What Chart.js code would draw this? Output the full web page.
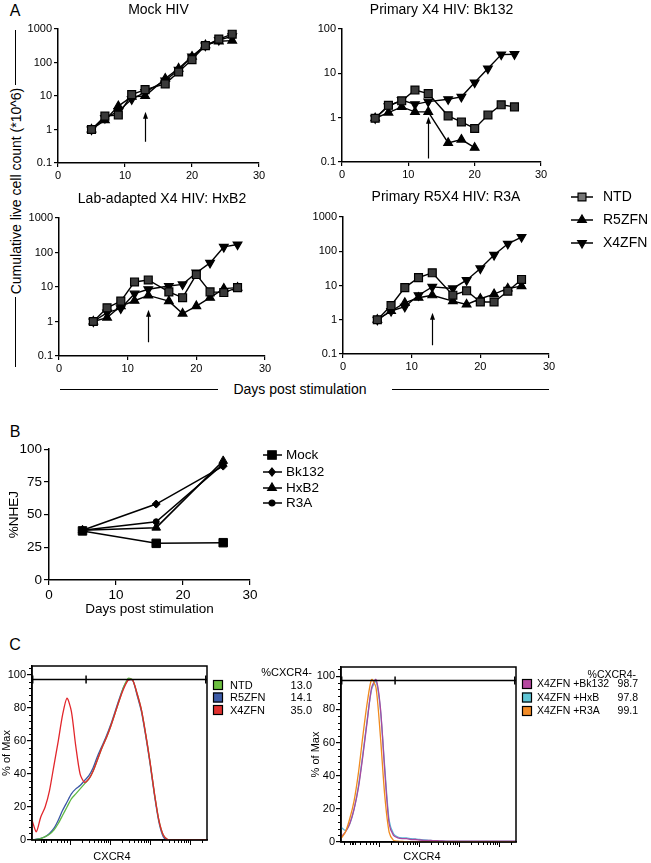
<!DOCTYPE html>
<html><head><meta charset="utf-8">
<script src="https://cdn.jsdelivr.net/npm/chart.js@4.4.1/dist/chart.umd.min.js"></script>
<style>
html,body{margin:0;padding:0;background:#fff}
body{position:relative;width:651px;height:863px;overflow:hidden;font-family:"Liberation Sans",Arial,Helvetica,sans-serif;color:#000}
canvas{position:absolute}
.lbl{position:absolute;white-space:nowrap;transform:translate(-50%,-50%);line-height:1}
.hl{position:absolute;height:0;border-top:1.5px solid #000}
.vl{position:absolute;width:0;border-left:1.5px solid #000}
</style></head><body>
<div class="lbl" style="left:15px;top:11px;font-size:16px">A</div>
<div class="lbl" style="left:15px;top:432px;font-size:16px">B</div>
<div class="lbl" style="left:15px;top:645px;font-size:16px">C</div>
<div class="lbl" style="left:16px;top:191px;font-size:14px;transform:translate(-50%,-50%) rotate(-90deg)">Cumulative live cell count (*10^6)</div>
<div class="vl" style="left:15px;top:30px;height:55px"></div>
<div class="vl" style="left:15px;top:297px;height:70px"></div>
<div class="lbl" style="left:300px;top:389px;font-size:14px">Days post stimulation</div>
<div class="hl" style="left:60px;top:389px;width:158px"></div>
<div class="hl" style="left:392px;top:389px;width:157px"></div>
<canvas id="a1"></canvas><canvas id="a2"></canvas><canvas id="a3"></canvas><canvas id="a4"></canvas>
<canvas id="b1"></canvas><canvas id="c1"></canvas><canvas id="c2"></canvas>
<script>
// ---------- DATA ----------
const DAYS = [5, 7, 9, 11, 13, 16, 18, 20, 22, 24, 26];
const A_SERIES = ['NTD', 'R5ZFN', 'X4ZFN'];
const MOCK_NTD = [1, 2.5, 2.7, 11, 15.5, 23, 52, 122, 320, 500, 700];
const MOCK_R5  = [1, 1.9, 5, 9.5, 10, 33, 66, 150, 330, 430, 450];
const MOCK_X4  = [1, 2.2, 3.5, 8, 13, 29, 60, 150, 320, 470, 600];
const BK_NTD = [0.97, 1.9, 2.4, 4.2, 3.5, 1.1, 0.8, 0.57, 1.15, 1.95, 1.75];
const BK_R5  = [0.97, 1.3, 1.75, 1.35, 1.35, 0.27, 0.32, 0.21];
const BK_X4  = [0.97, 1.8, 2.5, 2.0, 2.3, 2.6, 2.95, 6.2, 12.8, 26.5, 27];
const HXB_NTD = [1, 2.5, 3.9, 14, 16, 7.2, 4.9, 23, 7.2, 6.9, 9.6];
const HXB_R5  = [1, 1.3, 2.8, 4, 5.7, 3.9, 1.7, 2.8, 4.9, 9, 9.6];
const HXB_X4  = [1, 1.8, 2.4, 6.4, 8.6, 10.7, 11.9, 26, 50, 145, 170];
const R3A_NTD = [1, 2.6, 8.7, 17, 23.5, 5.2, 7, 3.3, 3.3, 6.8, 15];
const R3A_R5  = [1, 1.8, 3.1, 4.4, 5.2, 3.5, 2.8, 4.1, 5.6, 8.2, 9.6];
const R3A_X4  = [1, 1.8, 2.4, 5.2, 9.1, 8.2, 14.3, 31.5, 78, 165, 260];
const A_TICKS_4 = [0.1, 1, 10, 100, 1000];
const A_TICKS_3 = [0.1, 1, 10, 100];
const ARROW_DAY = 13;

const B_DAYS = [5, 16, 26];
const B_SERIES = ['Mock', 'Bk132', 'HxB2', 'R3A'];
const B_MOCK  = [37.5, 28, 28.5];
const B_BK132 = [38, 58, 87];
const B_HXB2  = [38, 40, 91];
const B_R3A   = [38, 44.5, 88.5];
const B_TICKS = [0, 25, 50, 75, 100];

const C_X = [0,2.5,5,7.5,10,12.5,15,17.5,20,22.5,25,27.5,30,32.5,35,37.5,40,42.5,45,47.5,50,52.5,55,57.5,60,62.5,65,67.5,70,72.5,75,77.5,80,82.5,85,87.5,90,92.5,95,97.5,100];
const C1_SERIES = ['NTD', 'R5ZFN', 'X4ZFN'];
const C1_PCT = ['13.0', '14.1', '35.0'];
const C_NTD = [0,0.3,0.8,2,3.5,6,10,15,20,25,28,31,34,37,42,49,56,62,69,77,85,93,98,97,89,79,64,47,28,12,3,0.3,0,0,0,0,0,0,0,0,0];
const C_R5  = [0,0.5,1,2,4,7,12,18,23,28,31,33,36,39,44,51,57,63,70,78,86,93,97,97,88,78,63,46,27,11,2,0,0,0,0,0,0,0,0,0,0];
const C_X4  = [12,5,14,20,30,45,60,76,86,78,57,40,35,37,42,49,56,62,69,77,85,92,97,97,89,79,64,47,28,12,3,0.3,0,0,0,0,0,0,0,0,0];
const C2_SERIES = ['X4ZFN +Bk132', 'X4ZFN +HxB', 'X4ZFN +R3A'];
const C2_PCT = ['98.7', '97.8', '99.1'];
const C_BK132 = [3,6,11,20,33,52,73,93,98,81,43,11,4,2.5,2,2,1.5,1.5,1.2,1,1,0.8,0.8,0.6,0.5,0.5,0.5,0.5,0.5,0.5,0.5,0.5,0.5,0.5,0.5,0.5,0.5,0.5,0.5,0.5,0.5];
const C_HXB   = [9,7,11,20,34,53,74,92,97,80,45,13,5,3,2.5,2.5,2,1.8,1.5,1.2,1,0.8,0.6,0.5,0.4,0.3,0.3,0.3,0.3,0.3,0.3,0.3,0.3,0.3,0.3,0.3,0.3,0.3,0.3,0.3,0.3];
const C_R3A   = [2,6,14,25,42,64,84,98,93,64,28,6,1,0.5,0.3,0.2,0,0,0,0,0,0,0,0,0,0,0,0,0,0,0,0,0,0,0,0,0,0,0,0,0];
const C_YTICKS = [0, 20, 40, 60, 80, 100];
const C_GATE_Y = 97.6;
const C_GATE_MARKS = [0.4, 30.9, 99.3];
const C_DECADES = [21.7, 44.6, 67.4, 90.3];
const C_LOW_TICKS = [1.5, 5, 6, 7, 8, 11, 14, 16.3, 18.3, 20.1];

// ---------- HELPERS ----------
const FONT = '"Liberation Sans", Arial, Helvetica, sans-serif';
Chart.defaults.font.family = FONT;
Chart.defaults.color = '#000';
Chart.defaults.animation = false;

function place(id, left, top, w, h) {
  const c = document.getElementById(id);
  c.width = w; c.height = h;
  c.style.left = left + 'px'; c.style.top = top + 'px';
  c.style.width = w + 'px'; c.style.height = h + 'px';
  return c;
}
function drawMarker(ctx, style, x, y, r, fill, stroke, rot) {
  ctx.save();
  ctx.translate(x, y);
  if (rot) ctx.rotate(rot * Math.PI / 180);
  ctx.beginPath();
  if (style === 'rect') { const s = r * Math.SQRT1_2; ctx.rect(-s, -s, 2 * s, 2 * s); }
  else if (style === 'rectRot') { ctx.moveTo(0, -r); ctx.lineTo(r * 0.8, 0); ctx.lineTo(0, r); ctx.lineTo(-r * 0.8, 0); ctx.closePath(); }
  else if (style === 'triangle') { ctx.moveTo(0, -r); ctx.lineTo(r * 0.866, r * 0.5); ctx.lineTo(-r * 0.866, r * 0.5); ctx.closePath(); }
  else { ctx.arc(0, 0, r, 0, Math.PI * 2); }
  ctx.fillStyle = fill; ctx.fill();
  ctx.strokeStyle = stroke; ctx.lineWidth = 1.2; ctx.stroke();
  ctx.restore();
}
const A_STYLE = [
  { pointStyle: 'rect', radius: 5.6, bg: '#3a3a3a', rot: 0 },
  { pointStyle: 'triangle', radius: 5, bg: '#000', rot: 0 },
  { pointStyle: 'triangle', radius: 5, bg: '#000', rot: 180 }
];
const B_STYLE = [
  { pointStyle: 'rect', radius: 6, bg: '#000', rot: 0 },
  { pointStyle: 'rectRot', radius: 4, bg: '#000', rot: 0 },
  { pointStyle: 'triangle', radius: 5, bg: '#000', rot: 0 },
  { pointStyle: 'circle', radius: 3, bg: '#000', rot: 0 }
];

function lineLegend(names, styles, page, o) {
  return { id: 'lineLegend', afterDraw(chart) {
    const ctx = chart.ctx;
    names.forEach((n, i) => {
      const y = o.ys[i] - page.top, st = styles[i];
      ctx.save();
      ctx.strokeStyle = '#000'; ctx.lineWidth = 1.5;
      ctx.beginPath(); ctx.moveTo(o.x0 - page.left, y); ctx.lineTo(o.x1 - page.left, y); ctx.stroke();
      drawMarker(ctx, st.pointStyle, o.mx - page.left, y, st.radius, o.legendFill && i === 0 ? o.legendFill : st.bg, '#000', st.rot);
      ctx.fillStyle = '#000'; ctx.font = o.font; ctx.textBaseline = 'middle'; ctx.textAlign = 'left';
      ctx.fillText(n, o.tx - page.left, y + 0.5);
      ctx.restore();
    });
  }};
}
function arrowPlugin(a) {
  return { id: 'arrow', afterDatasetsDraw(chart) {
    const ctx = chart.ctx;
    const x = Math.round(chart.scales.x.getPixelForValue(a.day)) + 0.5;
    const y0 = chart.scales.y.getPixelForValue(a.from);
    const y1 = chart.scales.y.getPixelForValue(a.to);
    ctx.save();
    ctx.strokeStyle = '#000'; ctx.fillStyle = '#000'; ctx.lineWidth = 1.2;
    ctx.beginPath(); ctx.moveTo(x, y0); ctx.lineTo(x, y1 + 5); ctx.stroke();
    ctx.beginPath(); ctx.moveTo(x, y1); ctx.lineTo(x - 2.5, y1 + 7); ctx.lineTo(x + 2.5, y1 + 7); ctx.closePath(); ctx.fill();
    ctx.restore();
  }};
}
function axisStyle(size, tickLen) {
  return {
    grid: { drawOnChartArea: false, drawTicks: true, tickLength: tickLen, color: '#000', lineWidth: 1.2 },
    border: { color: '#000', width: 1.5 },
    ticks: { font: { size: size }, color: '#000', padding: 2, maxRotation: 0 }
  };
}

function makeA(id, g, title, vals, yMax, yTicks, arrow, extra) {
  const padT = 2, tf = 14, lh = tf * 1.2, xh = 22, padR = g.padR || 12;
  const cTop = Math.round(g.titleY - lh / 2 - padT);
  const cLeft = g.L - g.yw;
  const w = g.R + padR - cLeft, h = g.B + xh - cTop;
  const titlePadB = g.T - cTop - padT - lh;
  const canvas = place(id, cLeft, cTop, w, h);
  const datasets = vals.map((arr, k) => ({
    label: A_SERIES[k],
    data: arr.map((v, i) => ({ x: DAYS[i], y: v })),
    borderColor: '#000', borderWidth: 1.4, tension: 0,
    pointStyle: A_STYLE[k].pointStyle, pointRadius: A_STYLE[k].radius,
    pointRotation: A_STYLE[k].rot, pointBackgroundColor: A_STYLE[k].bg,
    pointBorderColor: '#000', pointBorderWidth: 1.2
  }));
  const xs = axisStyle(11, 4), ys = axisStyle(11, 4);
  const plugins = [arrowPlugin(arrow)];
  if (extra) plugins.push(extra({ left: cLeft, top: cTop }));
  return new Chart(canvas, {
    type: 'line',
    data: { datasets },
    options: {
      responsive: false, animation: false,
      layout: { padding: { top: padT, right: padR, left: 0, bottom: 0 } },
      plugins: {
        legend: { display: false }, tooltip: { enabled: false },
        title: { display: true, text: title, fullSize: false, color: '#000',
          font: { size: tf, weight: 'normal' }, padding: { top: 0, bottom: titlePadB } }
      },
      scales: {
        x: Object.assign({ type: 'linear', min: 0, max: 30, afterFit: s => { s.height = xh; } }, xs,
          { ticks: Object.assign({}, xs.ticks, { stepSize: 10 }) }),
        y: Object.assign({ type: 'logarithmic', min: 0.1, max: yMax,
          afterFit: s => { s.width = g.yw; },
          afterBuildTicks: s => { s.ticks = yTicks.map(v => ({ value: v })); } }, ys,
          { ticks: Object.assign({}, ys.ticks, { callback: v => String(v) }) })
      }
    },
    plugins
  });
}

// ---------- PANEL A ----------
makeA('a1', { L: 58, T: 29, R: 259, B: 163, titleY: 10, yw: 58 }, 'Mock HIV',
  [MOCK_NTD, MOCK_R5, MOCK_X4], 1000, A_TICKS_4, { day: ARROW_DAY, from: 0.43, to: 3.4 });
makeA('a2', { L: 342, T: 29, R: 541, B: 162, titleY: 10, yw: 42 }, 'Primary X4 HIV: Bk132',
  [BK_NTD, BK_R5, BK_X4], 100, A_TICKS_3, { day: ARROW_DAY, from: 0.12, to: 1.05 });
makeA('a3', { L: 59, T: 218, R: 265, B: 356, titleY: 199, yw: 59 }, 'Lab-adapted X4 HIV: HxB2',
  [HXB_NTD, HXB_R5, HXB_X4], 1000, A_TICKS_4, { day: ARROW_DAY, from: 0.25, to: 2.2 });
makeA('a4', { L: 343, T: 217, R: 549, B: 354, titleY: 197, yw: 42, padR: 102 }, 'Primary R5X4 HIV: R3A',
  [R3A_NTD, R3A_R5, R3A_X4], 1000, A_TICKS_4, { day: ARROW_DAY, from: 0.18, to: 1.6 },
  page => lineLegend(A_SERIES, A_STYLE, page,
    { x0: 571, x1: 593, mx: 582, tx: 603, ys: [197, 220, 243], font: '14px ' + FONT, legendFill: '#777' }));

// ---------- PANEL B ----------
(function () {
  const page = { left: 0, top: 439 };
  const canvas = place('b1', page.left, page.top, 340, 617 - 439);
  const vals = [B_MOCK, B_BK132, B_HXB2, B_R3A];
  const datasets = vals.map((arr, k) => ({
    label: B_SERIES[k],
    data: arr.map((v, i) => ({ x: B_DAYS[i], y: v })),
    borderColor: '#000', borderWidth: 1.5, tension: 0,
    pointStyle: B_STYLE[k].pointStyle, pointRadius: B_STYLE[k].radius,
    pointBackgroundColor: '#000', pointBorderColor: '#000', pointBorderWidth: 1
  }));
  const xs = axisStyle(13.5, 5), ys = axisStyle(13.5, 5);
  new Chart(canvas, {
    type: 'line',
    data: { datasets },
    options: {
      responsive: false, animation: false,
      layout: { padding: { top: 8, right: 90, left: 0, bottom: 0 } },
      plugins: { legend: { display: false }, tooltip: { enabled: false } },
      scales: {
        x: Object.assign({ type: 'linear', min: 0, max: 30, afterFit: s => { s.height = 37; },
          title: { display: true, text: 'Days post stimulation', font: { size: 13.5 }, color: '#000', padding: 0 } }, xs,
          { ticks: Object.assign({}, xs.ticks, { stepSize: 10 }) }),
        y: Object.assign({ type: 'linear', min: 0, max: 100, afterFit: s => { s.width = 49; },
          afterBuildTicks: s => { s.ticks = B_TICKS.map(v => ({ value: v })); },
          title: { display: true, text: '%NHEJ', font: { size: 13.5 }, color: '#000', padding: { top: 6, bottom: 0 } } }, ys)
      }
    },
    plugins: [lineLegend(B_SERIES, B_STYLE, page,
      { x0: 263, x1: 282, mx: 272, tx: 286, ys: [455, 472, 488, 503], font: '13.5px ' + FONT })]
  });
})();

// ---------- PANEL C ----------
function flowDecor(page, leg) {
  return { id: 'flowDecor', afterDatasetsDraw(chart) {
    const ctx = chart.ctx, a = chart.chartArea, xs = chart.scales.x, ys = chart.scales.y;
    ctx.save();
    ctx.strokeStyle = '#000'; ctx.lineWidth = 1.5;
    ctx.strokeRect(a.left, a.top, a.right - a.left, a.bottom - a.top);
    const gy = Math.round(ys.getPixelForValue(C_GATE_Y)) + 0.5;
    ctx.beginPath(); ctx.moveTo(a.left, gy); ctx.lineTo(a.right, gy); ctx.stroke();
    C_GATE_MARKS.forEach(m => { const x = xs.getPixelForValue(m); ctx.beginPath(); ctx.moveTo(x, gy - 4); ctx.lineTo(x, gy + 4); ctx.stroke(); });
    ctx.lineWidth = 1;
    for (let v = 4; v < 105; v += 4) {
      if (v % 20 === 0) continue;
      const y = Math.round(ys.getPixelForValue(v)) + 0.5;
      ctx.beginPath(); ctx.moveTo(a.left - 3, y); ctx.lineTo(a.left, y); ctx.stroke();
    }
    const tick = (p, len) => { const x = Math.round(xs.getPixelForValue(p)) + 0.5; ctx.beginPath(); ctx.moveTo(x, a.bottom); ctx.lineTo(x, a.bottom + len); ctx.stroke(); };
    C_LOW_TICKS.forEach(p => tick(p, 3));
    const dw = C_DECADES[1] - C_DECADES[0];
    C_DECADES.forEach(d => {
      tick(d, 5);
      for (let m = 2; m <= 9; m++) { const p = d + Math.log10(m) * dw; if (p < 100) tick(p, 3); }
    });
    ctx.restore();
    ctx.save();
    ctx.fillStyle = '#000'; ctx.textBaseline = 'middle'; ctx.textAlign = 'center';
    ctx.font = '11px ' + FONT;
    ctx.fillText('CXCR4', leg.axisTitleX - page.left, 857 - page.top);
    ctx.font = leg.font;
    ctx.textAlign = 'right';
    ctx.fillText('%CXCR4-', leg.hx - page.left, leg.hy - page.top);
    leg.names.forEach((n, i) => {
      const y = leg.ys[i] - page.top;
      ctx.fillStyle = leg.colors[i];
      ctx.fillRect(leg.sx - page.left, y - 5, 10, 10);
      ctx.strokeStyle = '#000'; ctx.lineWidth = 1.2;
      ctx.strokeRect(leg.sx - page.left + 0.5, y - 4.5, 9, 9);
      ctx.fillStyle = '#000';
      ctx.textAlign = 'left'; ctx.fillText(n, leg.tx - page.left, y + 0.5);
      ctx.textAlign = 'right'; ctx.fillText(leg.pcts[i], leg.vx - page.left, y + 0.5);
    });
    ctx.restore();
  }};
}
function makeC(id, g, vals, colors, orders, leg) {
  const cLeft = g.L - 32, cTop = g.T - 10, xh = 24;
  const w = Math.min(g.maxW, 651 - cLeft);
  const h = g.B + xh - cTop;
  const page = { left: cLeft, top: cTop };
  const canvas = place(id, cLeft, cTop, w, h);
  const datasets = vals.map((arr, k) => ({
    label: leg.names[k],
    data: arr.map((v, i) => ({ x: C_X[i], y: v })),
    borderColor: colors[k], borderWidth: 1.3, pointRadius: 0, tension: 0.25, fill: false, order: orders[k]
  }));
  const ys = axisStyle(11, 5);
  return new Chart(canvas, {
    type: 'line',
    data: { datasets },
    options: {
      responsive: false, animation: false,
      layout: { padding: { top: 10, right: w - (g.R - cLeft), left: 0, bottom: 0 } },
      plugins: { legend: { display: false }, tooltip: { enabled: false } },
      scales: {
        x: { type: 'linear', min: 0, max: 100, afterFit: s => { s.height = xh; },
          ticks: { display: false }, grid: { display: false }, border: { color: '#000', width: 1.5 } },
        y: Object.assign({ type: 'linear', min: 0, max: 105.5, afterFit: s => { s.width = 32; },
          afterBuildTicks: s => { s.ticks = C_YTICKS.map(v => ({ value: v })); },
          title: { display: true, text: '% of Max', font: { size: 11 }, color: '#000', padding: { top: 0.5, bottom: 0 } } }, ys,
          { ticks: Object.assign({}, ys.ticks, { padding: 1 }) })
      }
    },
    plugins: [flowDecor(page, leg)]
  });
}
makeC('c1', { L: 32, T: 666, R: 207, B: 840, maxW: 320 },
  [C_NTD, C_R5, C_X4], ['#5fb845', '#3b57a5', '#e2262b'], [1, 2, 0],
  { names: C1_SERIES, pcts: C1_PCT, colors: ['#6cbf40', '#3c5ba8', '#e0312f'], font: '11px ' + FONT,
    sx: 213, tx: 230, vx: 312, ys: [685, 697.5, 710], hx: 312, hy: 673, axisTitleX: 112 });
makeC('c2', { L: 341, T: 667, R: 516, B: 842, maxW: 400 },
  [C_BK132, C_HXB, C_R3A], ['#a8489e', '#5ab8d8', '#f08a1e'], [1, 2, 0],
  { names: C2_SERIES, pcts: C2_PCT, colors: ['#b5479f', '#5fc6d6', '#f28c28'], font: '10.5px ' + FONT,
    sx: 522, tx: 537, vx: 638, ys: [684, 697.5, 711], hx: 636, hy: 675, axisTitleX: 422 });
</script>
</body></html>
